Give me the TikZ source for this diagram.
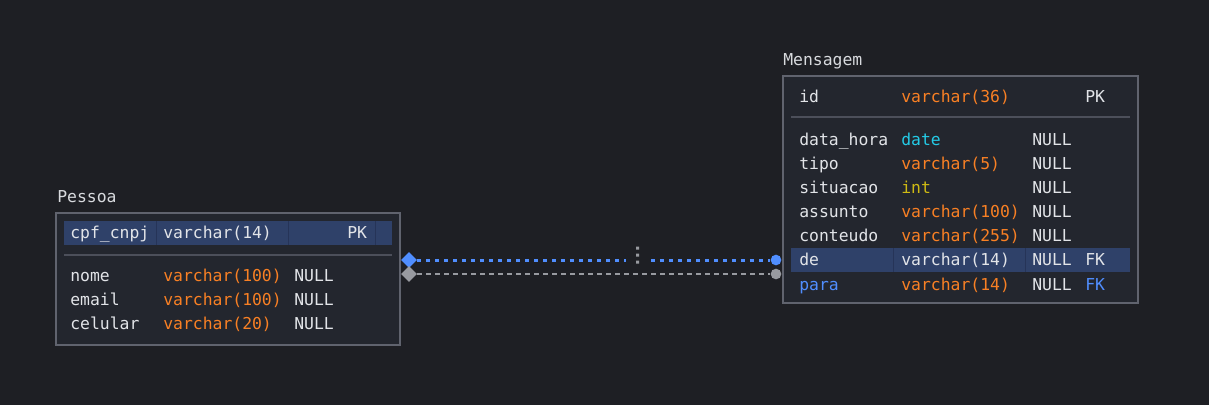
\documentclass[tikz,border=0pt]{standalone}
\usepackage{fontspec}
\setmonofont{DejaVu Sans Mono}
\usetikzlibrary{shapes.geometric}
\definecolor{bg dark}{RGB}{30,31,36}
\definecolor{table fill}{RGB}{35,38,46}
\definecolor{table edge}{RGB}{96,99,110}
\definecolor{table rule}{RGB}{76,79,90}
\definecolor{row blue}{RGB}{47,65,105}
\definecolor{row split}{RGB}{38,52,88}
\definecolor{text light}{RGB}{226,228,232}
\definecolor{type orange}{RGB}{249,128,36}
\definecolor{type cyan}{RGB}{36,202,230}
\definecolor{type yellow}{RGB}{206,186,20}
\definecolor{link blue}{RGB}{80,142,255}
\definecolor{link gray}{RGB}{152,154,160}

\tikzset{
	field/.style={anchor=base west, inner sep=0pt, text=text light,
		font=\ttfamily\fontsize{12.3}{14}\selectfont},
	vc/.style={field, text=type orange},
	table box/.style={draw=table edge, fill=table fill, line width=2pt},
	key row/.style={fill=row blue},
	end diamond/.style={diamond, inner sep=0pt, minimum size=12pt},
	end dot/.style={circle, inner sep=0pt, minimum size=8pt}
}

\begin{document}
\begin{tikzpicture}[x=0.75pt, y=-0.75pt]
	\fill[bg dark] (0,0) rectangle (1209,405);
	\useasboundingbox (0,0) rectangle (1209,405);
	% table Pessoa
	\begin{scope}
		\draw[table box] (56,213) rectangle (400,345);
		\fill[key row] (64,221) rectangle (392,245);
		\draw[row split, line width=0.75pt] (156,221) -- (156,245) (288,221) -- (288,245) (375,221) -- (375,245);
		\draw[table rule, line width=1.2pt] (64,255) -- (392,255);
		\node[field, text=text light!90!gray] (pessoa) at (57,202) {Pessoa};
		\node[field] (p-id) at (70,238.5) {cpf\_cnpj};
		\node[field] at (163,238.5) {varchar(14)};
		\node[field] at (347,238.5) {PK};
		\foreach \name/\kind [count=\i] in {nome/varchar(100), email/varchar(100), celular/varchar(20)} {
			\node[field] (p-\i) at (70,257.5+24*\i) {\name};
			\node[vc] at (163,257.5+24*\i) {\kind};
			\node[field] at (294,257.5+24*\i) {NULL};
		}
	\end{scope}
	% table Mensagem
	\begin{scope}
		\draw[table box] (783,76) rectangle (1138,303);
		\fill[key row] (791,248) rectangle (1130,272);
		\draw[row split, line width=0.75pt] (893,248) -- (893,272) (1025,248) -- (1025,272);
		\draw[table rule, line width=1.2pt] (791,117) -- (1130,117);
		\node[field, text=text light!90!gray] (mensagem) at (783,65) {Mensagem};
		\node[field] (m-id) at (799,102.5) {id};
		\node[vc] at (901,102.5) {varchar(36)};
		\node[field] at (1085,102.5) {PK};
		\foreach \name/\kind/\col [count=\i] in {data\_hora/date/type cyan, tipo/varchar(5)/type orange,
			situacao/int/type yellow, assunto/varchar(100)/type orange, conteudo/varchar(255)/type orange} {
			\node[field] (m-\i) at (799,121.5+24*\i) {\name};
			\node[field, text=\col] at (901,121.5+24*\i) {\kind};
			\node[field] at (1032,121.5+24*\i) {NULL};
		}
		\node[field] (m-de) at (799,265.5) {de};
		\node[field] at (901,265.5) {varchar(14)};
		\node[field] at (1032,265.5) {NULL};
		\node[field] at (1085,265.5) {FK};
		\node[field, text=link blue] (m-para) at (799,290) {para};
		\node[vc] at (901,290) {varchar(14)};
		\node[field] at (1032,290) {NULL};
		\node[field, text=link blue] at (1085,290) {FK};
	\end{scope}
	% links
	\node[end diamond, fill=link blue] (de-from) at (409,260) {};
	\node[end dot, fill=link blue] (de-to) at (776,260) {};
	\node[end diamond, fill=link gray] (para-from) at (409,274) {};
	\node[end dot, fill=link gray] (para-to) at (776,274) {};
	\draw[link blue, line width=2.25pt, dash pattern=on 3pt off 3.75pt] (de-from) -- (de-to)
		coordinate[pos=0.624] (de-gap);
	\fill[bg dark] ([xshift=-9pt]de-gap) rectangle ([xshift=9pt,yshift=-3pt]de-gap);
	\fill[bg dark] ([xshift=-9pt]de-gap) rectangle ([xshift=9pt,yshift=3pt]de-gap);
	\fill[link gray] ([shift={(-1.5,-13.5)}]de-gap) rectangle +(3,3)
		([shift={(-1.5,-6.5)}]de-gap) rectangle +(3,3)
		([shift={(-1.5,0.5)}]de-gap) rectangle +(3,3);
	\draw[link gray, line width=1.1pt, dash pattern=on 3.75pt off 3pt] (para-from) -- (para-to);
\end{tikzpicture}
\end{document}
